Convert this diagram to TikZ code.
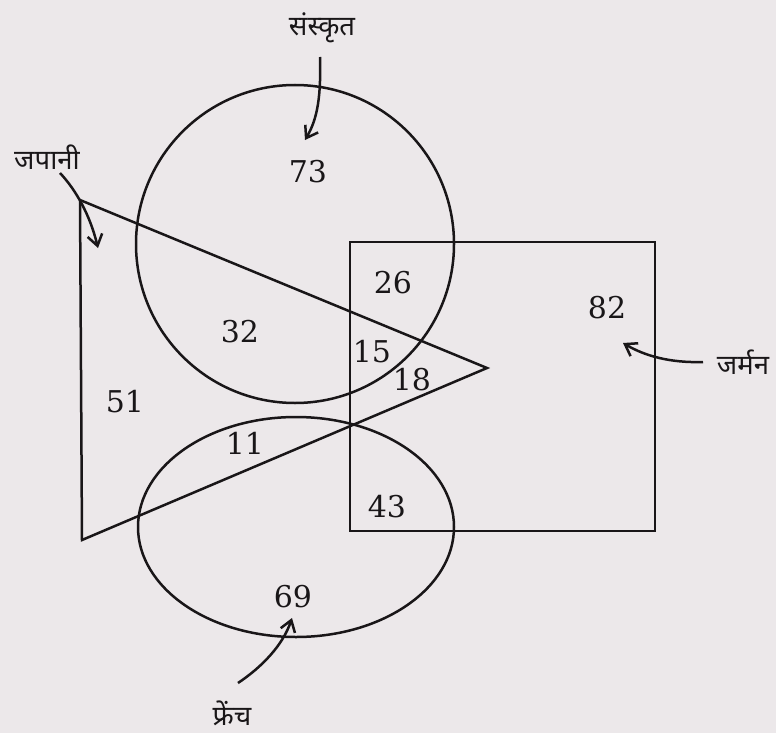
\documentclass[tikz,border=0pt]{standalone}
\usepackage{fontspec}
\newfontfamily\deva[Script=Devanagari]{Noto Sans}
\newfontfamily\numfont{DejaVu Serif}
\usetikzlibrary{arrows.meta}
\definecolor{paper}{RGB}{236,232,234}
\definecolor{ink}{RGB}{25,22,24}
\tikzset{
  shape line/.style={draw=ink, line width=2.5pt},
  num/.style={text=ink, font=\numfont\fontsize{30}{30}\selectfont, inner sep=0pt},
  lbl/.style={text=ink, font=\deva\fontsize{27.5}{27.5}\selectfont, inner sep=0pt},
  pointer/.style={draw=ink, line width=2.5pt, -{Straight Barb[length=11pt,width=15pt,line width=2.5pt]}}
}
\begin{document}
\begin{tikzpicture}[x=1pt,y=-1pt]
\fill[paper] (0,0) rectangle (776,733);
\useasboundingbox (0,0) rectangle (776,733);
% shapes
\draw[shape line] (295,244) circle [radius=159];
\draw[shape line] (296,527) ellipse [x radius=158, y radius=110];
\draw[shape line] (350,242) rectangle (655,531);
\draw[shape line, line join=miter] (80,200) -- (487,368) -- (82,540) -- cycle;
% numbers
\node[num] (n73) at (308,172) {73};
\node[num] (n26) at (393,283) {26};
\node[num] (n82) at (607,308) {82};
\node[num] (n32) at (240,332) {32};
\node[num] (n15) at (372,352) {15};
\node[num] (n18) at (412,380) {18};
\node[num] (n51) at (125,402) {51};
\node[num] (n11) at (245,443) {11};
\node[num] (n43) at (387,507) {43};
\node[num] (n69) at (293,597) {69};
% labels
\node[lbl] (sans) at (322,28) {संस्कृत};
\node[lbl] (jap) at (47,157) {जपानी};
\node[lbl] (ger) at (743,362) {जर्मन};
\node[lbl] (fre) at (232,713) {फ्रेंच};
% arrow tips
\coordinate (tS) at (305,140);
\coordinate (tJ) at (98,248);
\coordinate (tG) at (623,343);
\coordinate (tF) at (292,618);
\coordinate (sS) at (320,57);
\coordinate (sJ) at (60,173);
\coordinate (sG) at (703,362);
\coordinate (sF) at (238,683);
\draw[pointer] (sS) .. controls (321,95) and (318,118) .. (tS);
\draw[pointer] (sJ) .. controls (76,190) and (90,215) .. (tJ);
\draw[pointer] (sG) .. controls (670,363) and (645,356) .. (tG);
\draw[pointer] (sF) .. controls (262,667) and (283,645) .. (tF);
\end{tikzpicture}
\end{document}
